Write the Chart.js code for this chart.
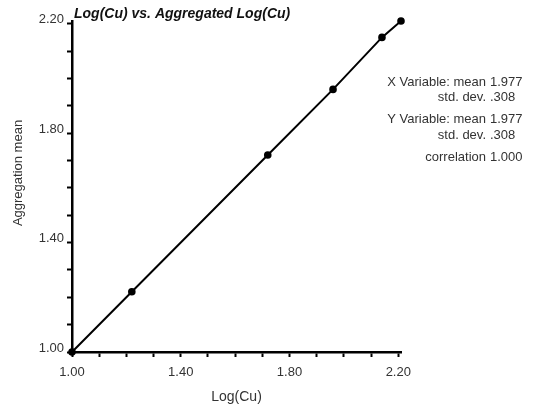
<!DOCTYPE html>
<html>
<head>
<meta charset="utf-8">
<script src="https://cdn.jsdelivr.net/npm/chart.js@4/dist/chart.umd.min.js"></script>
<style>
  html, body { margin: 0; padding: 0; background: #fff; }
</style>
</head>
<body>
<canvas id="chart" width="535" height="406"></canvas>
<script>
// values
var logCu = [1.00, 1.22, 1.72, 1.96, 2.14, 2.21];
var aggMean = [1.00, 1.22, 1.72, 1.96, 2.15, 2.21];
var tickLabels = ["1.00", "1.40", "1.80", "2.20"];
var statLines = [
    ["X Variable: mean", "1.977"],
    ["std. dev.", ".308"],
    ["Y Variable: mean", "1.977"],
    ["std. dev.", ".308"],
    ["correlation", "1.000"]
];
var statY = [82, 97, 119, 135, 157];

var font = "'Liberation Sans', Arial, Helvetica, sans-serif";

var points = [];
for (var i = 0; i < logCu.length; i++) {
    points.push({x: logCu[i], y: aggMean[i]});
}

function allTicks(axis) {
    var t = [];
    for (var k = 0; k <= 12; k++) {
        t.push({value: Math.round((1 + k * 0.1) * 100) / 100});
    }
    axis.ticks = t;
}

function labelFor(v) {
    var s = v.toFixed(2);
    return tickLabels.indexOf(s) >= 0 ? s : "";
}

// title, y axis title and the stats box
var textPlugin = {
    id: "texts",
    afterDraw: function(chart) {
        var ctx = chart.ctx;
        ctx.save();
        ctx.fillStyle = "#111";
        ctx.font = "italic bold 14px " + font;
        ctx.textAlign = "left";
        ctx.textBaseline = "alphabetic";
        ctx.fillText("Log(Cu) vs. Aggregated Log(Cu)", 74, 18);

        ctx.fillStyle = "#333";
        ctx.font = "13px " + font;
        ctx.translate(22, 173);
        ctx.rotate(-Math.PI / 2);
        ctx.textAlign = "center";
        ctx.fillText("Aggregation mean", 0, 0);
        ctx.restore();

        ctx.save();
        ctx.fillStyle = "#333";
        ctx.font = "13px " + font;
        ctx.textBaseline = "middle";
        for (var j = 0; j < statLines.length; j++) {
            ctx.textAlign = "right";
            ctx.fillText(statLines[j][0], 486, statY[j]);
            ctx.textAlign = "left";
            ctx.fillText(statLines[j][1], 490, statY[j]);
        }
        ctx.restore();
    }
};

new Chart(document.getElementById("chart"), {
    type: "scatter",
    data: {
        datasets: [{
            data: points,
            showLine: true,
            clip: false,
            borderColor: "#000",
            borderWidth: 2,
            backgroundColor: "#000",
            pointRadius: 2.8,
            pointHoverRadius: 2.8
        }]
    },
    options: {
        responsive: false,
        animation: false,
        layout: { padding: { left: 0, right: 134, top: 21, bottom: 0 } },
        plugins: {
            legend: { display: false },
            tooltip: { enabled: false },
            title: { display: false }
        },
        scales: {
            x: {
                type: "linear",
                min: 1.0,
                max: 2.21,
                afterBuildTicks: allTicks,
                afterFit: function(scale) { scale.height = 54; },
                border: { color: "#000", width: 2.5 },
                grid: { drawOnChartArea: false, tickLength: 5, tickColor: "#000", tickWidth: 2 },
                ticks: {
                    autoSkip: false,
                    maxRotation: 0,
                    color: "#333",
                    font: { family: font, size: 13 },
                    padding: 8,
                    callback: function(v) { return labelFor(v); }
                },
                title: {
                    display: true,
                    text: "Log(Cu)",
                    color: "#333",
                    font: { family: font, size: 14 },
                    padding: { top: 0, bottom: 0 }
                }
            },
            y: {
                type: "linear",
                min: 1.0,
                max: 2.21,
                afterBuildTicks: allTicks,
                afterFit: function(scale) { scale.width = 72; },
                border: { color: "#000", width: 2.5 },
                grid: { drawOnChartArea: false, tickLength: 5, tickColor: "#000", tickWidth: 2 },
                ticks: {
                    autoSkip: false,
                    color: "#333",
                    font: { family: font, size: 13 },
                    padding: 3,
                    labelOffset: -4,
                    callback: function(v) { return labelFor(v); }
                }
            }
        }
    },
    plugins: [textPlugin]
});
</script>
</body>
</html>
